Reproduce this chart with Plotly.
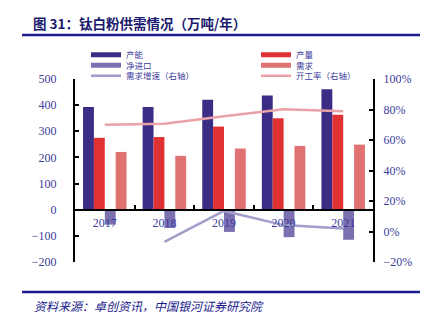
import plotly.graph_objects as go

years = ["2017", "2018", "2019", "2020", "2021"]
capacity = [393, 393, 421, 437, 461]        # 产能
output = [275, 278, 318, 350, 363]          # 产量
net_import = [-57, -70, -85, -105, -115]    # 净进口
demand = [221, 206, 234, 244, 249]          # 需求
demand_growth = [None, -6.8, 13.5, 4.2, 2.0]  # 需求增速（右轴）%
utilization = [70.0, 70.7, 75.5, 80.2, 78.8]  # 开工率（右轴）%

left_ticks = [-200, -100, 0, 100, 200, 300, 400, 500]
right_ticks = [-20, 0, 20, 40, 60, 80, 100]
right_tick_labels = ["−20%", "0%", "20%", "40%", "60%", "80%", "100%"]

C_CAP = "#3b2c85"
C_OUT = "#e03232"
C_NET = "#7b70b0"
C_DEM = "#e07272"
C_GROW = "#a29ecb"
C_UTIL = "#e9a2a5"
TXT = "#3c3c9c"
NAVY = "#1a1a8c"

# plot area in pixels
W, H = 427, 322
L, R, T, B = 75, 373, 79, 262
pw, ph = R - L, B - T


def px(x):
    return (x - L) / pw


def py(y):
    return (B - y) / ph


fig = go.Figure()

bar_specs = [
    ("产能", capacity, C_CAP),
    ("产量", output, C_OUT),
    ("净进口", net_import, C_NET),
    ("需求", demand, C_DEM),
]
for name, vals, col in bar_specs:
    fig.add_trace(go.Bar(x=years, y=vals, name=name, marker=dict(color=col, line=dict(width=0)),
                         showlegend=False))

fig.add_trace(go.Scatter(x=years, y=demand_growth, name="需求增速（右轴）", mode="lines",
                         line=dict(color=C_GROW, width=2.5), yaxis="y2", showlegend=False))
fig.add_trace(go.Scatter(x=years, y=utilization, name="开工率（右轴）", mode="lines",
                         line=dict(color=C_UTIL, width=2.5), yaxis="y2", showlegend=False))

# legend entries (thick line symbols, as in the reference)
legend_specs = [
    ("产能", C_CAP, 5, "legend", 92, 54.7),
    ("净进口", C_NET, 5, "legend2", 92, 65.2),
    ("需求增速（右轴）", C_GROW, 2.5, "legend3", 92, 75.8),
    ("产量", C_OUT, 5, "legend4", 262, 54.7),
    ("需求", C_DEM, 5, "legend5", 262, 65.2),
    ("开工率（右轴）", C_UTIL, 2.5, "legend6", 262, 75.8),
]
legend_layout = {}
for name, col, w, lg, lx, ly in legend_specs:
    fig.add_trace(go.Scatter(x=[None], y=[None], name=name, mode="lines",
                             line=dict(color=col, width=w), legend=lg, showlegend=True))
    legend_layout[lg] = dict(
        x=px(lx - 6), y=py(ly), xanchor="left", yanchor="middle",
        bgcolor="rgba(0,0,0,0)", borderwidth=0,
        font=dict(family="Noto Sans CJK SC", size=8.5, color=TXT),
        itemwidth=30, tracegroupgap=0,
    )

axis_font = dict(family="Liberation Serif", size=12, color=TXT)

fig.update_layout(
    width=W, height=H,
    margin=dict(l=L, r=W - R, t=T, b=H - B, pad=0),
    paper_bgcolor="white", plot_bgcolor="white",
    barmode="group", bargap=0.27, bargroupgap=0,
    xaxis=dict(
        type="category", anchor="free", position=200 / 700,
        color="#000000",
        showline=True, linecolor="#000000", linewidth=2,
        ticks="inside", ticklen=4, tickwidth=1.5, tickcolor="#000000",
        tickson="boundaries", showgrid=False, zeroline=False,
        tickfont=axis_font, ticklabelstandoff=2,
    ),
    yaxis=dict(
        range=[-200, 500], tickmode="array", tickvals=left_ticks,
        color="#000000",
        showline=True, linecolor="#000000", linewidth=2,
        ticks="inside", ticklen=4, tickwidth=1.5, tickcolor="#000000",
        showgrid=False, zeroline=False, tickfont=axis_font,
        ticklabelstandoff=14,
    ),
    yaxis2=dict(
        range=[-20, 100], tickmode="array", tickvals=right_ticks, ticktext=right_tick_labels,
        overlaying="y", side="right", anchor="x",
        color="#000000",
        showline=True, linecolor="#000000", linewidth=2,
        ticks="inside", ticklen=4, tickwidth=1.5, tickcolor="#000000",
        showgrid=False, zeroline=False, tickfont=axis_font,
        ticklabelstandoff=6,
    ),
    showlegend=True,
    **legend_layout,
)

# header / footer rules
fig.add_shape(type="line", xref="paper", yref="paper", x0=px(22), x1=px(420), y0=py(35), y1=py(35),
              line=dict(color=NAVY, width=2.5))
fig.add_shape(type="line", xref="paper", yref="paper", x0=px(22), x1=px(420), y0=py(292), y1=py(292),
              line=dict(color=NAVY, width=2.5))

fig.add_annotation(xref="paper", yref="paper", x=px(31), y=py(23), xanchor="left", yanchor="middle",
                   text="<b>图 31：钛白粉供需情况（万吨/年）</b>", showarrow=False,
                   font=dict(family="Noto Sans CJK SC", size=13.5, color="#1a1a6e"))
fig.add_annotation(xref="paper", yref="paper", x=px(32), y=py(305), xanchor="left", yanchor="middle",
                   text="<i>资料来源：卓创资讯，中国银河证券研究院</i>", showarrow=False,
                   font=dict(family="Noto Sans CJK SC", size=12, color=NAVY))

fig.write_html("out.html")
